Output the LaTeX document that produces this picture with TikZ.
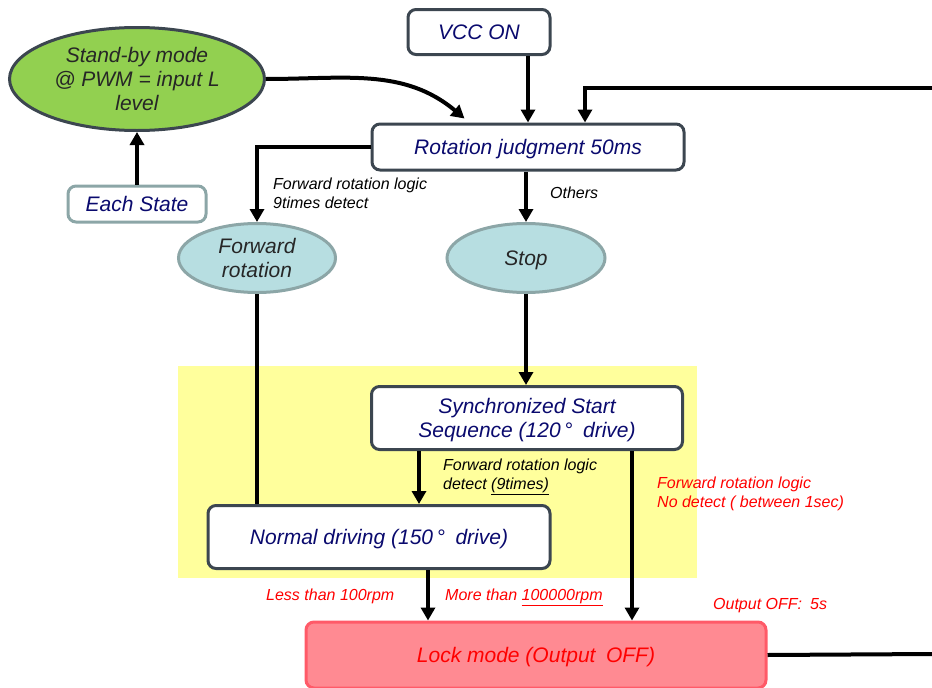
\documentclass[tikz,border=0pt]{standalone}
\usepackage{fontspec}
\setmainfont{Liberation Sans}
\usetikzlibrary{calc,shapes.geometric,arrows.meta}
\definecolor{boxline}{HTML}{3C4650}
\definecolor{navy}{HTML}{0A0A6E}
\definecolor{sbgreen}{HTML}{92D050}
\definecolor{rotfill}{HTML}{B7DEE1}
\definecolor{rotline}{HTML}{8CA6A7}
\definecolor{hilite}{HTML}{FFFF9C}
\definecolor{lockfill}{HTML}{FF8A92}
\definecolor{lockline}{HTML}{FF5A68}
\def\labfont{\fontsize{21}{24}\selectfont\itshape}
\def\notefont{\fontsize{16}{18.5}\selectfont\itshape}
\tikzset{
	state/.style={draw=boxline, line width=3pt, rounded corners=8pt, fill=white,
		text=navy, font=\labfont, align=center, inner sep=0pt, text depth=0pt},
	oval/.style={ellipse, draw=rotline, line width=3pt, fill=rotfill,
		text=black!85, font=\labfont, align=center, inner sep=0pt, text depth=0pt},
	note/.style={font=\notefont, align=left, inner sep=0pt, anchor=north west},
	arr/.style={line width=4pt, -{Triangle[width=14pt,length=13pt]}},
	wire/.style={line width=4pt}
}

\begin{document}
\begin{tikzpicture}[x=1pt,y=-1pt]
	%%%%% START %%%%%
	\useasboundingbox (0,0) rectangle (932,688);
	\fill[hilite] (178,366) rectangle (697,578);
	
	\node[state, minimum width=142, minimum height=45] (vcc) at (479,32) {VCC ON};
	\node[oval, draw=boxline, fill=sbgreen, minimum width=255, minimum height=103] (sb) at (137,79)
		{Stand-by mode\\@ PWM = input L\\level};
	\node[state, draw=rotline, minimum width=138, minimum height=36] (each) at (137,204) {Each State};
	\node[state, minimum width=312, minimum height=46] (rot) at (528,147) {Rotation judgment 50ms};
	\node[oval, minimum width=157, minimum height=69] (fwd) at (257,258) {Forward\\rotation};
	\node[oval, minimum width=158, minimum height=69] (stop) at (526,258) {Stop};
	\node[state, minimum width=311, minimum height=63] (sync) at (527,418)
		{Synchronized Start\\Sequence (120\,°\enspace drive)};
	\node[state, minimum width=342, minimum height=63] (norm) at (379,537)
		{Normal driving (150\,°\enspace drive)};
	\node[state, draw=lockline, fill=lockfill, text=red, minimum width=460, minimum height=66] (lock) at (536,655)
		{Lock mode (Output\enspace OFF)};
	
	% labels
	\node[note] (n1) at (273,178) {Forward rotation logic\\9times detect};
	\node[note] (n2) at (550,187) {Others};
	\node[note] (n3) at (443,459) {Forward rotation logic\\detect \underline{(9times)}};
	\node[note, text=red] (n4) at (657,477) {Forward rotation logic\\No detect ( between 1sec)};
	\node[note, text=red] (n5) at (266,589) {Less than 100rpm};
	\node[note, text=red] (n6) at (445,589) {More than \underline{100000rpm}};
	\node[note, text=red] (n7) at (713,598) {Output OFF:\enspace 5s};
	
	% connectors
	\coordinate (loopin) at (932,88);
	\coordinate (lockout) at (932,654);
	\coordinate (rin) at ($(rot.north)+(57,0)$);
	\coordinate (sbin) at ($(rot.north west)+(94,-4)$);
	\coordinate (s1) at ($(norm.north)+(40,0)$);
	\coordinate (s2) at ($(sync.south east)+(-52,0)$);
	\coordinate (s3) at ($(norm.south)+(49,0)$);
	
	\draw[arr] (sb.east) to[out=0,in=140] (sbin);
	\draw[arr] (vcc.south -| rot.north) -- (rot.north);
	\draw[arr] (loopin) -| (rin);
	\draw[arr] (each.north) -- (sb.south);
	\draw[arr] (rot.west) -| (fwd.north);
	\draw[arr] (rot.south -| stop.north) -- (stop.north);
	\draw[arr] (stop.south) -- (stop.south |- sync.north);
	\draw[wire] (fwd.south) -- (fwd.south |- norm.north);
	\draw[arr] (s1 |- sync.south) -- (s1);
	\draw[arr] (s2) -- (s2 |- lock.north);
	\draw[arr] (s3) -- (s3 |- lock.north);
	\draw[wire] (lock.east) -- (lockout);
	%%%%% END %%%%%
\end{tikzpicture}
\end{document}
